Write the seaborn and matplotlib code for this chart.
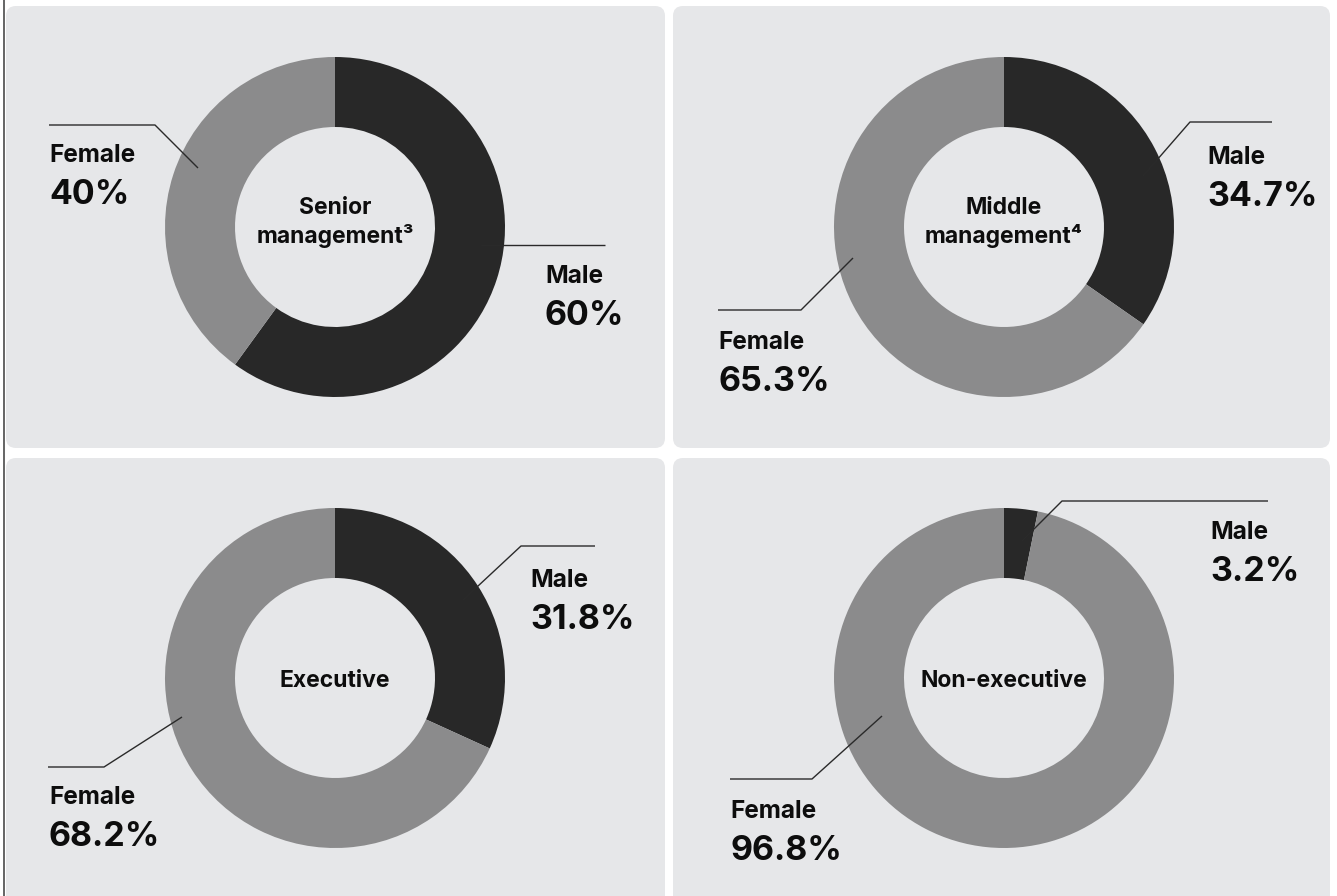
import matplotlib
matplotlib.use("Agg")
import matplotlib.pyplot as plt
from matplotlib.patches import FancyBboxPatch
import seaborn as sns

# ---- data -------------------------------------------------------------
groups = ["Senior\nmanagement³", "Middle\nmanagement⁴", "Executive", "Non-executive"]
male_pct = [60, 34.7, 31.8, 3.2]
female_pct = [40, 65.3, 68.2, 96.8]
series_names = ["Male", "Female"]

# ---- style ------------------------------------------------------------
sns.set_theme(style="white")
plt.rcParams["font.family"] = ["Inter", "DejaVu Sans"]

DARK = "#282828"
GRAY = "#8b8b8c"
PANEL = "#e6e7e9"
INK = "#0d0d0d"
LEADER = "#2a2a2a"

W, H = 1337, 896
fig = plt.figure(figsize=(W / 100, H / 100), dpi=100, facecolor="white")
ax = fig.add_axes([0, 0, 1, 1])

# panel boxes (x, y, width, height) in pixel space, y downward
panels = [(6, 6, 659, 442), (673, 6, 657, 442),
          (6, 458, 659, 450), (673, 458, 657, 450)]
centers = [(335, 227), (1004, 227), (335, 678), (1004, 678)]
OUTER, RING = 170, 70

# label layout: (text x, name baseline) and leader polylines
male_layout = [
    dict(xy=(545, 283), line=[(481, 245), (605, 245)]),
    dict(xy=(1207, 164), line=[(1143, 176), (1190, 122), (1272, 122)]),
    dict(xy=(530, 587), line=[(463, 600), (521, 546), (595, 546)]),
    dict(xy=(1210, 539), line=[(1022, 541), (1062, 501), (1268, 501)]),
]
female_layout = [
    dict(xy=(49, 162), line=[(198, 168), (155, 125), (49, 125)]),
    dict(xy=(718, 349), line=[(853, 258), (801, 310), (718, 310)]),
    dict(xy=(49, 804), line=[(182, 717), (104, 767), (48, 767)]),
    dict(xy=(730, 818), line=[(882, 716), (812, 779), (730, 779)]),
]
center_baselines = [243, 243, 687, 687]
PCT_GAP = 42

for (x, y, w, h) in panels:
    ax.add_patch(FancyBboxPatch((x, y), w, h,
                                boxstyle="round,pad=0,rounding_size=10",
                                fc=PANEL, ec="none", zorder=0))

for i, group in enumerate(groups):
    cx, cy = centers[i]
    ax.pie([male_pct[i], female_pct[i]], colors=[DARK, GRAY],
           startangle=-90, counterclock=True, radius=OUTER, center=(cx, cy),
           wedgeprops=dict(width=RING, linewidth=0), frame=True)

    ax.text(cx, center_baselines[i], group, ha="center", va="baseline",
            fontsize=16.5, fontweight="bold", color=INK, linespacing=1.25,
            zorder=5)

    for name, val, lay in ((series_names[0], male_pct[i], male_layout[i]),
                           (series_names[1], female_pct[i], female_layout[i])):
        xs, ys = zip(*lay["line"])
        ax.plot(xs, ys, color=LEADER, lw=1.0, solid_capstyle="butt", zorder=4)
        tx, ty = lay["xy"]
        ax.text(tx, ty, name, ha="left", va="baseline", fontsize=17.5,
                fontweight="bold", color=INK, zorder=5)
        ax.text(tx, ty + PCT_GAP, f"{val:g}%", ha="left", va="baseline",
                fontsize=24.5, fontweight="bold", color=INK, zorder=5)

# thin frame rule along the left edge
ax.plot([3.5, 3.5], [0, H], color="#4a4a4a", lw=1.2, zorder=6)

ax.set_xlim(0, W)
ax.set_ylim(H, 0)
ax.set_aspect("equal")
ax.axis("off")

fig.savefig("out.png", dpi=100, facecolor="white")
